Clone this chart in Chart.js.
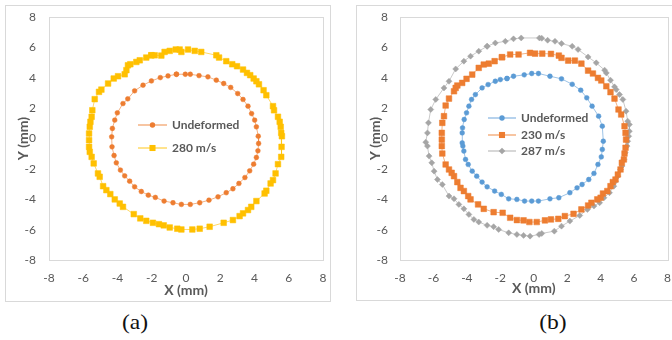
<!DOCTYPE html>
<html lang="en">
<head>
<meta charset="UTF-8">
<title>Crater profiles</title>
<script src="https://cdn.jsdelivr.net/npm/chart.js"></script>
<style>
  body { margin: 0; width: 672px; height: 340px; background: #fff; position: relative; overflow: hidden; }
  .box { position: absolute; border: 1px solid #d9d9d9; box-sizing: border-box; }
  canvas { position: absolute; }
  .cap { position: absolute; font-family: "Liberation Serif", serif; font-size: 21px; font-weight: normal; color: #111; transform: translate(-50%, -50%) scaleX(1.12); }
</style>
</head>
<body>
<div class="box" style="left:5px;top:5px;width:326px;height:297px;"></div>
<div class="box" style="left:356px;top:5px;width:330px;height:296px;"></div>
<canvas id="chartA" width="323" height="295" style="left:6px;top:6px;"></canvas>
<canvas id="chartB" width="315" height="293" style="left:357px;top:6px;"></canvas>
<div class="cap" style="left:135px;top:322px;">(a)</div>
<div class="cap" style="left:553px;top:322px;">(b)</div>
<script>
// axis ticks (mm)
const axisMin = -8;
const axisMax = 8;
const axisStep = 2;

// (a) series labels
const labelsA = ['Undeformed', '280 m/s'];
// (b) series labels
const labelsB = ['Undeformed', '230 m/s', '287 m/s'];

// (a) undeformed profile, [x, y] in mm
const undeformedA = [
  [-0.56,4.23],[-0.04,4.23],[0.25,4.23],[0.76,4.14],[1.28,4.06],[1.77,3.84],[2.20,3.62],[2.61,3.36],
  [3.02,2.96],[3.33,2.57],[3.62,2.13],[3.83,1.64],[4.01,1.21],[4.11,0.77],[4.22,0.15],[4.24,-0.33],
  [4.20,-0.81],[4.11,-1.25],[3.95,-1.69],[3.72,-2.13],[3.44,-2.57],[3.09,-2.96],[2.74,-3.31],[2.35,-3.57],
  [1.87,-3.84],[1.34,-4.06],[0.80,-4.23],[0.25,-4.34],[-0.27,-4.34],[-0.76,-4.23],[-1.28,-4.12],[-1.79,-3.88],
  [-2.20,-3.73],[-2.61,-3.49],[-3.00,-3.18],[-3.29,-2.81],[-3.58,-2.46],[-3.83,-2.08],[-4.07,-1.60],[-4.20,-1.12],
  [-4.32,-0.55],[-4.34,0.11],[-4.30,0.66],[-4.16,1.21],[-4.01,1.69],[-3.68,2.30],[-3.40,2.61],[-3.00,3.14],
  [-2.51,3.51],[-2.02,3.79],[-1.50,4.01],[-1.05,4.12]
];

// (a) 280 m/s impact profile
const impact280 = [
  [-2.02,5.48],[-1.83,5.48],[-1.44,5.46],[-1.25,5.70],[-0.95,5.77],[-0.60,5.86],[-0.37,5.86],[-0.27,5.70],
  [0.12,5.86],[0.51,5.77],[0.89,5.70],[1.77,5.48],[1.93,5.33],[2.35,5.09],[2.70,4.89],[2.98,4.76],
  [3.33,4.54],[3.56,4.32],[3.75,4.17],[3.95,3.95],[4.11,3.77],[4.26,3.57],[4.53,3.18],[4.69,2.85],
  [5.08,2.13],[5.14,1.86],[5.37,1.43],[5.47,1.10],[5.53,0.77],[5.56,0.37],[5.60,0.15],[5.58,-0.55],
  [5.56,-1.21],[5.37,-1.69],[5.23,-2.30],[5.08,-2.74],[4.94,-2.96],[4.69,-3.44],[4.59,-3.62],[4.11,-4.12],
  [3.81,-4.50],[3.62,-4.71],[3.33,-4.93],[3.13,-5.11],[2.74,-5.37],[2.20,-5.55],[1.38,-5.81],[0.80,-5.94],
  [0.37,-5.99],[-0.27,-5.99],[-0.51,-5.94],[-0.95,-5.86],[-1.30,-5.72],[-1.58,-5.64],[-1.93,-5.55],[-2.32,-5.42],
  [-2.67,-5.26],[-3.05,-4.98],[-3.68,-4.50],[-3.87,-4.28],[-4.16,-4.01],[-4.42,-3.66],[-4.65,-3.40],[-4.84,-3.14],
  [-5.04,-2.52],[-5.14,-2.30],[-5.39,-1.64],[-5.51,-1.21],[-5.62,-0.88],[-5.66,-0.55],[-5.66,-0.11],[-5.66,0.33],
  [-5.62,0.77],[-5.58,1.10],[-5.51,1.43],[-5.47,1.86],[-5.33,2.59],[-5.08,3.07],[-4.94,3.22],[-4.55,3.62],
  [-4.22,3.95],[-3.97,4.10],[-3.58,4.23],[-3.48,4.50],[-3.39,4.82],[-3.25,4.89],[-2.90,5.04],[-2.70,5.15],
  [-2.32,5.33]
];

// (b) undeformed profile
const undeformedB = [
  [-1.60,3.95],[-1.21,4.10],[-0.57,4.19],[-0.12,4.28],[0.28,4.28],[0.97,4.10],[1.66,3.93],[2.30,3.57],
  [2.81,3.18],[3.17,2.68],[3.49,2.13],[3.88,1.47],[4.10,0.81],[4.16,-0.18],[4.10,-0.72],[4.04,-1.21],
  [3.84,-1.71],[3.60,-2.30],[3.29,-2.70],[2.89,-3.03],[2.59,-3.25],[2.16,-3.57],[1.50,-3.90],[0.97,-3.97],
  [0.28,-4.12],[-0.12,-4.12],[-0.55,-4.12],[-1.01,-4.01],[-1.50,-3.97],[-1.94,-3.68],[-2.34,-3.46],[-2.79,-3.18],
  [-3.09,-2.87],[-3.41,-2.48],[-3.68,-2.15],[-3.92,-1.71],[-4.08,-1.38],[-4.18,-0.83],[-4.24,-0.50],[-4.28,-0.29],
  [-4.28,0.37],[-4.26,0.70],[-4.16,1.25],[-4.02,1.69],[-3.88,2.13],[-3.72,2.57],[-3.49,2.89],[-3.09,3.33],
  [-2.73,3.55],[-2.30,3.77],[-2.00,3.88]
];

// (b) 230 m/s impact profile
const impact230 = [
  [-1.90,5.35],[-1.41,5.53],[-0.91,5.53],[-0.22,5.64],[0.08,5.59],[0.51,5.59],[1.03,5.57],[1.50,5.46],
  [1.66,5.31],[2.06,5.13],[2.46,5.13],[2.85,4.93],[3.25,4.47],[3.54,4.28],[3.84,3.99],[4.04,3.82],
  [4.34,3.44],[4.59,3.05],[4.83,2.63],[5.07,1.91],[5.23,1.58],[5.43,0.81],[5.49,0.37],[5.52,-0.07],
  [5.49,-0.61],[5.43,-0.99],[5.39,-1.38],[5.27,-1.60],[5.19,-2.04],[5.03,-2.37],[4.89,-2.70],[4.73,-2.87],
  [4.59,-3.14],[4.40,-3.46],[4.14,-3.62],[4.00,-3.90],[3.80,-4.01],[3.45,-4.23],[3.25,-4.41],[2.85,-4.67],
  [2.38,-4.96],[1.86,-5.11],[1.47,-5.29],[1.03,-5.33],[0.67,-5.39],[0.18,-5.50],[-0.26,-5.50],[-0.61,-5.39],
  [-1.01,-5.37],[-1.41,-5.22],[-1.86,-4.89],[-2.40,-4.85],[-2.99,-4.63],[-3.33,-4.34],[-3.78,-4.01],[-3.92,-3.79],
  [-4.18,-3.46],[-4.38,-3.25],[-4.57,-2.87],[-4.77,-2.48],[-4.91,-2.26],[-5.07,-2.04],[-5.27,-1.71],[-5.47,-0.99],
  [-5.50,-0.50],[-5.50,-0.07],[-5.50,0.37],[-5.47,1.03],[-5.37,1.47],[-5.27,2.17],[-5.07,2.63],[-4.77,3.11],
  [-4.67,3.33],[-4.57,3.49],[-4.28,3.66],[-4.02,3.93],[-3.68,4.21],[-3.29,4.65],[-2.99,4.87],[-2.69,4.93],
  [-2.34,5.09]
];

// (b) 287 m/s impact profile
const impact287 = [
  [-2.79,6.07],[-2.30,6.29],[-1.70,6.40],[-1.21,6.56],[-0.75,6.62],[0.34,6.62],[0.48,6.60],[0.83,6.47],
  [1.27,6.40],[1.66,6.25],[2.30,6.07],[2.65,5.86],[3.25,5.37],[3.74,4.98],[4.24,4.50],[4.34,4.32],
  [4.59,3.84],[4.83,3.40],[4.93,3.22],[5.13,2.89],[5.33,2.57],[5.52,1.80],[5.62,1.14],[5.72,0.92],
  [5.72,0.48],[5.68,0.15],[5.62,-0.18],[5.58,-0.50],[5.47,-0.94],[5.39,-1.38],[5.27,-1.82],[5.19,-2.04],
  [5.03,-2.48],[4.89,-2.81],[4.79,-3.14],[4.53,-3.57],[4.20,-3.90],[3.94,-4.23],[3.60,-4.45],[3.21,-4.67],
  [2.75,-5.07],[2.16,-5.44],[1.66,-5.77],[1.23,-6.10],[0.48,-6.25],[0.32,-6.32],[-0.22,-6.43],[-0.61,-6.38],
  [-1.01,-6.32],[-1.50,-6.21],[-2.10,-5.99],[-2.40,-5.81],[-2.79,-5.72],[-3.29,-5.50],[-3.58,-5.33],[-3.88,-5.00],
  [-4.18,-4.63],[-4.48,-4.34],[-4.77,-3.97],[-5.07,-3.79],[-5.47,-3.03],[-5.76,-2.70],[-5.96,-2.15],[-6.10,-1.60],
  [-6.26,-1.16],[-6.36,-0.50],[-6.46,-0.24],[-6.36,0.37],[-6.30,1.03],[-6.16,1.91],[-5.86,2.57],[-5.37,3.33],
  [-5.07,3.77],[-4.67,4.58],[-4.18,5.09],[-3.78,5.42],[-3.29,5.75]
];

const textGray = '#595959';
const uiFont = 'Lato, "Open Sans", sans-serif';

function toPoints(pairs) {
  // close the profile by returning to the first measured point
  const pts = pairs.map(p => ({x: p[0], y: p[1]}));
  pts.push({x: pairs[0][0], y: pairs[0][1]});
  return pts;
}

function series(label, pairs, color, lineColor, shape, radius) {
  return {
    label: label,
    data: toPoints(pairs),
    showLine: true,
    tension: 0,
    borderColor: lineColor,
    borderWidth: 1,
    pointStyle: shape,
    pointRadius: radius,
    pointBackgroundColor: color,
    pointBorderColor: color,
    pointBorderWidth: 0.5
  };
}

// light frame round the plot area
const frame = {
  id: 'frame',
  beforeDatasetsDraw(chart) {
    const a = chart.chartArea, ctx = chart.ctx;
    ctx.save();
    ctx.strokeStyle = '#d9d9d9';
    ctx.lineWidth = 1;
    ctx.strokeRect(Math.round(a.left) + 0.5, Math.round(a.top) + 0.5, Math.round(a.right - a.left), Math.round(a.bottom - a.top));
    ctx.restore();
  }
};

function marker(ctx, shape, x, y, r) {
  ctx.beginPath();
  if (shape === 'rect') {
    const s = r * Math.SQRT1_2;
    ctx.rect(x - s, y - s, 2 * s, 2 * s);
  } else if (shape === 'rectRot') {
    ctx.moveTo(x, y - r); ctx.lineTo(x + r, y); ctx.lineTo(x, y + r); ctx.lineTo(x - r, y); ctx.closePath();
  } else {
    ctx.arc(x, y, r, 0, Math.PI * 2);
  }
  ctx.fill();
}

// legend drawn inside the plot, Excel style
const insideLegend = {
  id: 'insideLegend',
  afterDatasetsDraw(chart, args, opts) {
    const ctx = chart.ctx;
    ctx.save();
    ctx.font = 'bold 12px ' + uiFont;
    ctx.textBaseline = 'middle';
    chart.data.datasets.forEach((ds, i) => {
      const y = opts.rows[i];
      ctx.strokeStyle = ds.borderColor;
      ctx.lineWidth = 1.5;
      ctx.beginPath();
      ctx.moveTo(opts.x, y);
      ctx.lineTo(opts.x + opts.len, y);
      ctx.stroke();
      ctx.fillStyle = ds.pointBackgroundColor;
      marker(ctx, ds.pointStyle, opts.x + opts.len / 2, y, ds.pointRadius + 0.3);
      ctx.fillStyle = textGray;
      ctx.fillText(ds.label, opts.x + opts.len + 5, y);
    });
    ctx.restore();
  }
};

function axes(yWidth, xHeight, yPad, xPad, yTitlePad, xTitlePad) {
  const tickFont = {family: uiFont, size: 12};
  const titleFont = {family: uiFont, size: 14, weight: 'bold'};
  return {
    x: {
      type: 'linear', min: axisMin, max: axisMax,
      grid: {display: false, drawTicks: false},
      border: {display: false},
      ticks: {stepSize: axisStep, color: textGray, font: tickFont, padding: xPad, maxRotation: 0},
      title: {display: true, text: 'X (mm)', color: textGray, font: titleFont, padding: {top: xTitlePad, bottom: xTitlePad}},
      afterFit(scale) {
        scale.height = xHeight;
        scale.paddingLeft = 0;
        scale.paddingRight = 0;
      }
    },
    y: {
      type: 'linear', min: axisMin, max: axisMax,
      grid: {display: false, drawTicks: false},
      border: {display: false},
      ticks: {stepSize: axisStep, color: textGray, font: tickFont, padding: yPad},
      title: {display: true, text: 'Y (mm)', color: textGray, font: titleFont, padding: {top: yTitlePad, bottom: yTitlePad}},
      afterFit(scale) {
        scale.width = yWidth;
        scale.paddingTop = 0;
        scale.paddingBottom = 0;
      }
    }
  };
}

new Chart(document.getElementById('chartA'), {
  type: 'scatter',
  data: {
    datasets: [
      series(labelsA[0], undeformedA, '#ed7d31', 'rgba(237,125,49,0.6)', 'circle', 2.4),
      series(labelsA[1], impact280, '#ffc000', 'rgba(255,192,0,0.6)', 'rect', 4)
    ]
  },
  options: {
    responsive: false,
    animation: false,
    devicePixelRatio: 1,
    layout: {padding: {left: 0, top: 11, right: 6, bottom: 0}},
    scales: axes(43, 41, 13, 11, 9, 2),
    plugins: {
      legend: {display: false},
      tooltip: {enabled: false},
      insideLegend: {x: 132, len: 29, rows: [119, 142]}
    }
  },
  plugins: [frame, insideLegend]
});

new Chart(document.getElementById('chartB'), {
  type: 'scatter',
  data: {
    datasets: [
      series(labelsB[0], undeformedB, '#5b9bd5', 'rgba(91,155,213,0.6)', 'circle', 2.4),
      series(labelsB[1], impact230, '#ed7d31', 'rgba(237,125,49,0.6)', 'rect', 4),
      series(labelsB[2], impact287, '#a5a5a5', 'rgba(165,165,165,0.6)', 'rectRot', 3)
    ]
  },
  options: {
    responsive: false,
    animation: false,
    devicePixelRatio: 1,
    layout: {padding: {left: 0, top: 11, right: 3, bottom: 0}},
    scales: axes(43, 39, 12, 11, 10, 2),
    plugins: {
      legend: {display: false},
      tooltip: {enabled: false},
      insideLegend: {x: 131, len: 28, rows: [112, 129, 145]}
    }
  },
  plugins: [frame, insideLegend]
});
</script>
</body>
</html>
